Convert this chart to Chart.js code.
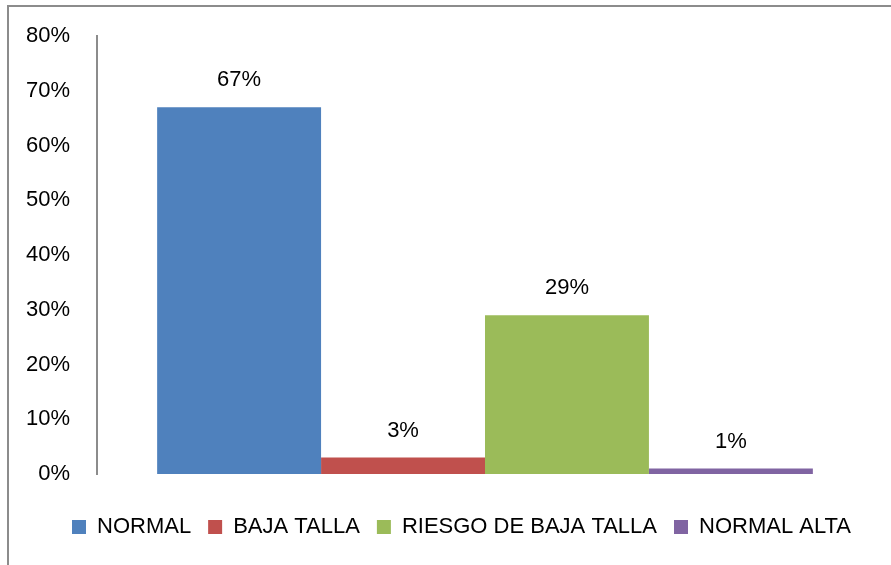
<!DOCTYPE html>
<html>
<head>
<meta charset="utf-8">
<script src="https://cdn.jsdelivr.net/npm/chart.js@4"></script>
<style>
  html, body { margin: 0; padding: 0; background: #fff; overflow: hidden; }
  #frame { position: absolute; left: 7px; top: 5px; width: 900px; height: 600px; border: 2px solid #8c8c8c; }
  #wrap { position: absolute; left: 0; top: 0; width: 891px; height: 565px; }
</style>
</head>
<body>
<div id="frame"></div>
<div id="wrap"><canvas id="myBarChart"></canvas></div>
<script>
    // 数据
    const categories = [''];
    const seriesNames = ['NORMAL', 'BAJA TALLA', 'RIESGO DE BAJA TALLA', 'NORMAL ALTA'];
    const seriesValues = [67, 3, 29, 1];
    const seriesColors = ['#4f81bd', '#c0504d', '#9bbb59', '#8064a2'];
    const yTicks = [0, 10, 20, 30, 40, 50, 60, 70, 80];

    const fontName = '"Liberation Sans", Arial, sans-serif';

    // 柱顶标签
    const valueLabels = {
        id: 'valueLabels',
        afterDatasetsDraw(chart) {
            const c = chart.ctx;
            c.save();
            c.font = '22px ' + fontName;
            c.fillStyle = '#000';
            c.textAlign = 'center';
            c.textBaseline = 'middle';
            chart.data.datasets.forEach((ds, i) => {
                chart.getDatasetMeta(i).data.forEach((bar, j) => {
                    c.fillText(ds.data[j] + '%', bar.x, bar.y - 27);
                });
            });
            c.restore();
        }
    };

    // 图例整体右移一点
    const shiftLegend = {
        id: 'shiftLegend',
        afterLayout(chart) {
            if (chart.legend) chart.legend.left = 32;
        }
    };

    const ctx = document.getElementById('myBarChart').getContext('2d');
    const chart = new Chart(ctx, {
        type: 'bar',
        data: {
            labels: categories,
            datasets: seriesNames.map((name, i) => ({
                label: name,
                data: [seriesValues[i]],
                backgroundColor: seriesColors[i],
                borderWidth: 0,
                barPercentage: 1,
                categoryPercentage: 0.845,
            }))
        },
        options: {
            responsive: true,
            maintainAspectRatio: false,
            animation: false,
            layout: { padding: { top: 36, right: 0, bottom: 17, left: 0 } },
            plugins: {
                tooltip: { enabled: false },
                legend: {
                    position: 'bottom',
                    labels: {
                        boxWidth: 14,
                        boxHeight: 14,
                        padding: 17,
                        color: '#000',
                        font: { family: fontName, size: 22 }
                    }
                }
            },
            scales: {
                x: {
                    display: true,
                    afterFit(scale) { scale.height = 25; },
                    border: { display: false },
                    grid: { display: false, drawTicks: false },
                    ticks: { display: false }
                },
                y: {
                    min: 0,
                    max: 80,
                    afterFit(scale) {
                        scale.width = 97;
                        scale.paddingTop = 0;
                        scale.paddingBottom = 0;
                    },
                    afterBuildTicks(scale) { scale.ticks = yTicks.map(v => ({ value: v })); },
                    border: { display: true, color: '#8c8c8c', width: 2 },
                    grid: { display: false, drawTicks: false },
                    ticks: {
                        padding: 27,
                        color: '#000',
                        font: { family: fontName, size: 22 },
                        callback: v => v + '%'
                    }
                },
                // 右侧留白
                yRight: {
                    position: 'right',
                    display: true,
                    afterFit(scale) {
                        scale.width = 18;
                        scale.paddingTop = 0;
                        scale.paddingBottom = 0;
                    },
                    border: { display: false },
                    grid: { display: false, drawTicks: false },
                    ticks: { display: false }
                }
            }
        },
        plugins: [valueLabels, shiftLegend]
    });
</script>
</body>
</html>
